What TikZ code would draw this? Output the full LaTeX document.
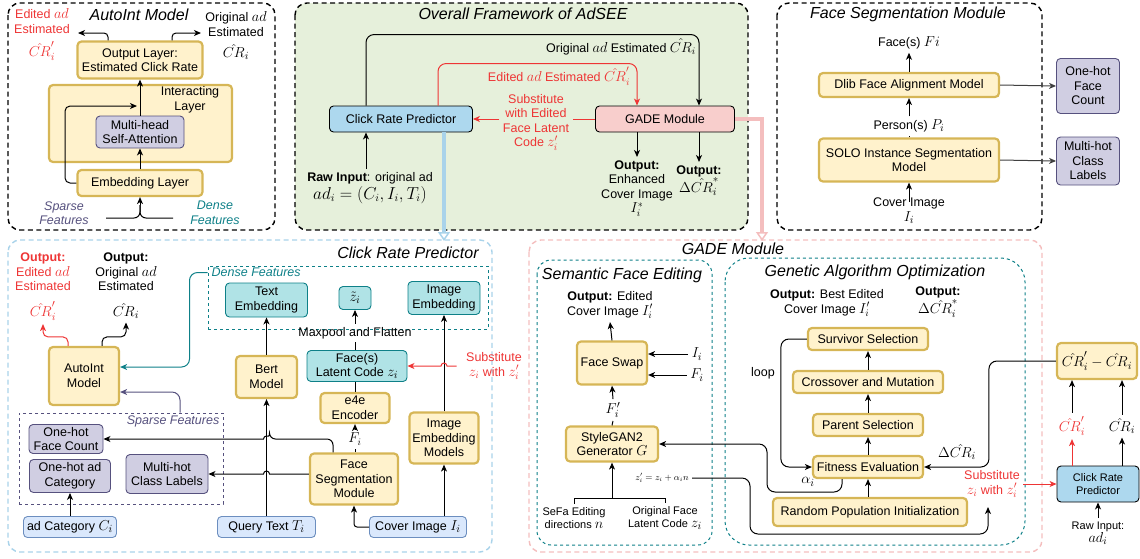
\documentclass[tikz,border=0pt]{standalone}
\usepackage{fontspec}
\setmainfont{Liberation Sans}
\usetikzlibrary{arrows.meta,positioning}

\definecolor{yfill}{HTML}{FFF2CC}
\definecolor{ydraw}{HTML}{D6B656}
\definecolor{pfill}{HTML}{D0CEE2}
\definecolor{pdraw}{HTML}{56517E}
\definecolor{tfill}{HTML}{B0E3E6}
\definecolor{tdraw}{HTML}{0E8088}
\definecolor{lbfill}{HTML}{DAE8FC}
\definecolor{lbdraw}{HTML}{6C8EBF}
\definecolor{crpfill}{HTML}{ADD8EE}
\definecolor{gadefill}{HTML}{F8CECC}
\definecolor{fwgreen}{HTML}{E6F0DB}
\definecolor{redc}{HTML}{EE3535}
\definecolor{crpline}{HTML}{A9D3EA}
\definecolor{gadeline}{HTML}{F4BEBE}

\newcommand{\bigmathfont}{\fontsize{15}{17}\selectfont}
\newcommand{\mth}[1]{{\fontsize{14.5}{16}\selectfont$#1$}}

\tikzset{
  every node/.style={font=\fontsize{12.5}{14.5}\selectfont},
  box/.style={rounded corners=4pt, align=center, inner sep=1pt},
  ybox/.style={box, draw=ydraw, fill=yfill, line width=2.2pt},
  pbox/.style={box, draw=pdraw, fill=pfill, line width=0.9pt},
  tbox/.style={box, draw=tdraw, fill=tfill, line width=0.9pt},
  lbbox/.style={box, draw=lbdraw, fill=lbfill, line width=0.9pt},
  cbox/.style={box, draw=black, fill=crpfill, line width=0.9pt},
  gbox/.style={box, draw=black, fill=gadefill, line width=0.9pt},
  sz/.style 2 args={minimum width=#1pt, minimum height=#2pt},
  arr/.style={-{Stealth[length=7pt,width=6pt,inset=2pt]}, line width=1pt},
  lw/.style={line width=1pt},
  panel/.style={line width=1.4pt, dash pattern=on 5pt off 3.5pt, rounded corners=12pt},
  ipanel/.style={draw=tdraw, line width=1pt, dash pattern=on 3pt off 3pt, rounded corners=14pt},
  dbox/.style={line width=1pt, dash pattern=on 3pt off 3pt},
  ttl/.style={font=\fontsize{16}{18}\selectfont\itshape},
  itl/.style={font=\fontsize{12.5}{14.5}\selectfont\itshape},
  mlbl/.style={font=\bigmathfont},
  small/.style={font=\fontsize{11}{13}\selectfont},
  bigarr/.style={line width=3.5pt, -{Triangle[open, length=9pt, width=12pt, line width=1.5pt]}},
}

\begin{document}
\begin{tikzpicture}[x=1pt, y=-1pt]
\useasboundingbox (0,0) rectangle (1140,558);

% AutoInt Model
\draw[panel] (8,3) rectangle (275,230);
\node[ttl] (aiT) at (139,15) {AutoInt Model};
\node[ybox, sz={183}{77}] (interL) at (140.5,123.5) {};
\node[align=center] (interTxt) at (190,100) {Interacting\\Layer};
\node[ybox, sz={125}{37}] (outL) at (140,60) {Output Layer:\\Estimated Click Rate};
\node[pbox, sz={88}{32}] (mhsa) at (140,132) {Multi-head\\Self-Attention};
\node[ybox, sz={125}{26}] (embL) at (140,183) {Embedding Layer};
\node[align=center, text=redc] (aiEd) at (42,21) {Edited \mth{ad}\\Estimated};
\node[mlbl, text=redc] (aiEdCR) at (42,51) {$\hat{CR}'_i$};
\node[align=center] (aiOr) at (236,24) {Original \mth{ad}\\Estimated};
\node[mlbl] (aiOrCR) at (236,52) {$\hat{CR}_i$};
\node[itl, align=center, text=pdraw] (aiSp) at (64,213) {Sparse\\Features};
\node[itl, align=center, text=tdraw] (aiDn) at (215,213) {Dense\\Features};
\coordinate (aiInL) at (106,218);
\coordinate (aiInR) at (173,218);
\coordinate (aiInJ) at (140,205);
\draw[lw, rounded corners=6pt] (aiInL) -| (aiInJ);
\draw[lw, rounded corners=6pt] (aiInR) -| (aiInJ);
\draw[arr] (aiInJ) -- (embL.south);
\draw[arr] (embL.north) -- (mhsa.south);
\draw[arr] (mhsa.north) -- (outL.south);
\draw[arr, rounded corners=5pt] (embL.west) -| (65,106) -- (137,106);
\draw[arr, rounded corners=4pt] ([xshift=-32pt]outL.north) |- (78,33);
\draw[arr, rounded corners=4pt] ([xshift=32pt]outL.north) |- (201,33);

% Overall framework
\draw[panel, fill=fwgreen] (295,3) rectangle (748,230);
\node[ttl] (fwT) at (523,14) {Overall Framework of AdSEE};
\node[cbox, sz={143}{26}] (crpTop) at (401,119) {Click Rate Predictor};
\node[gbox, sz={139}{26}] (gade) at (665,119) {GADE Module};
\node (fwOr) at (621,47) {Original \mth{ad} Estimated \mth{\hat{CR}_i}};
\node[text=redc] (fwEd) at (559,76) {Edited \mth{ad} Estimated \mth{\hat{CR}'_i}};
\node[align=center, text=redc] (fwSub) at (536,122) {Substitute\\with Edited\\Face Latent\\Code \mth{z'_i}};
\node[align=center, anchor=north] (fwRaw) at (370,169) {\textbf{Raw Input}: original ad\\[1pt]{\fontsize{16}{18}\selectfont $ad_i=(C_i,I_i,T_i)$}};
\node[align=center, anchor=north] (fwOut1) at (637,157) {\textbf{Output:}\\Enhanced\\Cover Image\\\mth{I^*_i}};
\node[align=center, anchor=north] (fwOut2) at (699,162) {\textbf{Output:}\\{\bigmathfont $\Delta\hat{CR}^*_i$}};
\draw[arr, rounded corners=8pt] ([xshift=-35pt]crpTop.north) -- ++(0,-71) -| ([xshift=34pt]gade.north);
\draw[arr, redc, rounded corners=8pt] ([xshift=37pt]crpTop.north) -- ++(0,-42) -| ([xshift=-28pt]gade.north);
\draw[lw, redc] (gade.west) -- (gade.west -| fwSub.east);
\draw[arr, redc] (crpTop.east -| fwSub.west) -- (crpTop.east);
\draw[arr] ([xshift=-4pt]fwRaw.north) -- ([xshift=-35pt]crpTop.south);
\draw[arr] (gade.south -| fwOut1.north) -- (fwOut1.north);
\draw[arr] (gade.south -| fwOut2.north) -- (fwOut2.north);
\coordinate (crpIn) at (444,241);
\coordinate (gadeIn) at (762,241);
\draw[bigarr, draw=crpline] (crpTop.south -| crpIn) -- (crpIn);
\draw[bigarr, draw=gadeline] (gade.east) -| (gadeIn);

% Face Segmentation Module
\draw[panel] (777,3) rectangle (1042,230);
\node[ttl] (fsT) at (908,14) {Face Segmentation Module};
\node[ybox, sz={180}{24}] (dlib) at (909,85) {Dlib Face Alignment Model};
\node[ybox, sz={180}{43}] (solo) at (909,160) {SOLO Instance Segmentation\\Model};
\node[pbox, sz={63}{55}] (fsOne) at (1088,86) {One-hot\\Face\\Count};
\node[pbox, sz={63}{48}] (fsMulti) at (1088,161) {Multi-hot\\Class\\Labels};
\node (fsFace) at (909,43) {Face(s) {\bigmathfont $Fi$}};
\node (fsPers) at (909,126) {Person(s) {\bigmathfont $P_i$}};
\node[align=center] (fsCov) at (909,211) {Cover Image\\{\bigmathfont $I_i$}};
\draw[arr] (dlib.north) -- (fsFace.south);
\draw[lw] (solo.north) -- (fsPers.south);
\draw[arr] (fsPers.north) -- (dlib.south);
\draw[arr] ([yshift=-7pt]fsCov.north) -- (solo.south);
\draw[arr, draw=black!75] (dlib.east) -- (fsOne.west);
\draw[arr, draw=black!75] (solo.east) -- (fsMulti.west);

% Click Rate Predictor
\draw[panel, draw=crpline] (8,240) rectangle (492,552);
\node[ttl] (cpT) at (408,253) {Click Rate Predictor};
\node[align=center, text=redc] (cpEd) at (43,272) {\textbf{Output:}\\Edited \mth{ad}\\Estimated};
\node[mlbl, text=redc] (cpEdCR) at (43,311) {$\hat{CR}'_i$};
\node[align=center] (cpOr) at (126,272) {\textbf{Output:}\\Original \mth{ad}\\Estimated};
\node[mlbl] (cpOrCR) at (126,311) {$\hat{CR}_i$};
\node[ybox, sz={70}{58}] (autoint) at (84,376) {AutoInt\\Model};
\node[dbox, draw=tdraw, sz={280}{63}] (dense) at (348,297.5) {};
\node[itl, anchor=north west, text=tdraw, inner sep=1pt] (denseLbl) at ([xshift=3pt,yshift=-1.5pt]dense.north west) {Dense Features};
\node[tbox, sz={82}{34}] (textEmb) at (266.5,300) {Text\\Embedding};
\node[tbox, sz={32}{23}] (ztil) at (355,298) {\bigmathfont $\tilde{z}_i$};
\node[tbox, sz={72}{33}] (imgEmb) at (444,298) {Image\\Embedding};
\node (maxp) at (355,333) {Maxpool and Flatten};
\node[tbox, sz={100}{31}] (latent) at (357,366) {Face(s)\\Latent Code {\bigmathfont $z_i$}};
\node[ybox, sz={61}{42}] (bert) at (266.5,377) {Bert\\Model};
\node[ybox, sz={69}{30}] (e4e) at (355,408) {e4e\\Encoder};
\node (fiLbl) at (355,439) {\mth{F_i}};
\node[ybox, sz={88}{51}] (faceseg) at (354,479) {Face\\Segmentation\\Module};
\node[ybox, sz={69}{51}] (iem) at (444,438) {Image\\Embedding\\Models};
\node[lbbox, sz={98}{21}] (query) at (266.5,527) {Query Text {\bigmathfont $T_i$}};
\node[lbbox, sz={97}{21}] (cover) at (418,527) {Cover Image {\bigmathfont $I_i$}};
\node[dbox, draw=pdraw, sz={204}{91}] (sparse) at (121,458.5) {};
\node[itl, anchor=north east, text=pdraw, inner sep=1pt] (sparseLbl) at ([xshift=-3pt,yshift=-2pt]sparse.north east) {Sparse Features};
\node[pbox, sz={74}{29}] (cpOne) at (66,439) {One-hot\\Face Count};
\node[pbox, sz={81}{33}] (cpCat) at (70,476) {One-hot ad\\Category};
\node[pbox, sz={82}{39}] (cpMulti) at (167,474) {Multi-hot\\Class Labels};
\node[lbbox, sz={93}{21}] (adcat) at (70,527) {ad Category {\bigmathfont $C_i$}};
\node[align=center, text=redc] (cpSub) at (494,366) {Substitute\\\mth{z_i} with \mth{z'_i}};
\draw[arr, redc, rounded corners=5pt] ([xshift=-16pt]autoint.north) -- ++(0,-9) -| (cpEdCR.south);
\draw[arr, rounded corners=5pt] ([xshift=18pt]autoint.north) -- ++(0,-9) -| (cpOrCR.south);
\draw[arr, draw=tdraw, rounded corners=8pt] ([yshift=-7pt]dense.north west) -- ++(-18,0) |- ([yshift=9pt]autoint.east);
\draw[arr, draw=pdraw, rounded corners=8pt] ([xshift=59pt]sparse.north) |- ([yshift=-16pt]autoint.east);
\draw[arr] (bert.north) -- (textEmb.south);
\draw[lw] (maxp.south |- latent.north) -- (maxp.south);
\draw[arr] (maxp.north) -- (ztil.south);
\draw[lw] (e4e.north) -- (e4e.north |- latent.south);
\draw[lw] (fiLbl.south |- faceseg.north) -- (fiLbl.south);
\draw[arr] (fiLbl.north) -- (fiLbl.north |- e4e.south);
\draw[arr] (query.north) -- (bert.south);
\draw[arr, rounded corners=3pt] (cover.west) -| (faceseg.south);
\draw[arr] (cover.north -| iem.south) -- (iem.south);
\draw[arr] (iem.north) -- (imgEmb.south);
\draw[arr, rounded corners=6pt] ([xshift=-21pt]faceseg.north) |- (269.5,439) [sharp corners] arc[start angle=0, end angle=-180, radius=3] -- (cpOne.east);
\draw[arr] ([yshift=5pt]faceseg.west) -- (269.5,474) arc[start angle=0, end angle=-180, radius=3] -- (cpMulti.east);
\draw[arr] (adcat.north) -- (cpCat.south);
\draw[arr, redc] ([xshift=-6pt]cpSub.west) -- (447,366) arc[start angle=0, end angle=-180, radius=3] -- (latent.east);

% GADE Module
\draw[panel, draw=gadeline] (529,240) rectangle (1042,552);
\node[ttl] (gaT) at (733,249) {GADE Module};
\draw[ipanel] (537,260) rectangle (712,545);
\draw[ipanel, rounded corners=24pt] (725,258) rectangle (1025,545);
\node[ttl] (sfeT) at (622,275) {Semantic Face Editing};
\node[ttl] (gaoT) at (875,272) {Genetic Algorithm Optimization};
\node[align=center] (sfeOut) at (610,305) {\textbf{Output:} Edited\\Cover Image \mth{I'_i}};
\node[ybox, sz={70}{43}] (fswap) at (612,363) {Face Swap};
\node[mlbl] (sfeI) at (697,354) {$I_i$};
\node[mlbl] (sfeF) at (697,375) {$F_i$};
\node[mlbl] (sfeFp) at (613,410) {$F'_i$};
\node[ybox, sz={92}{35}] (sgan) at (612,444) {StyleGAN2\\Generator {\bigmathfont $G$}};
\node[small, align=center] (sefa) at (574,518) {SeFa Editing\\directions {\bigmathfont $n$}};
\node[small, align=center] (origz) at (665,518) {Original Face\\Latent Code {\bigmathfont $z_i$}};
\node[font=\fontsize{9}{11}\selectfont] (zprime) at (662,478) {$z'_i = z_i + \alpha_i n$};
\coordinate (bk) at (612,498);
\draw[arr] (fswap.north) -- (sfeOut.south);
\draw[arr] (sfeI.west) -- (sfeI.west -| fswap.east);
\draw[arr] (sfeF.west) -- (sfeF.west -| fswap.east);
\draw[lw] (sgan.north) -- (sfeFp.south);
\draw[arr] (sfeFp.north) -- (fswap.south);
\draw[lw] (sefa.north) |- (bk) -| (origz.north);
\draw[arr] (bk) -- (sgan.south);

\node[align=center] (gaOut1) at (827,303) {\textbf{Output:} Best Edited\\Cover Image \mth{I'_i}};
\node[align=center] (gaOut2) at (938,302) {\textbf{Output:}\\{\bigmathfont $\Delta\hat{CR}^*_i$}};
\node[ybox, sz={120}{22}] (surv) at (868,339) {Survivor Selection};
\node[ybox, sz={150}{22}] (cross) at (868,382) {Crossover and Mutation};
\node[ybox, sz={110}{22}] (parent) at (868,425) {Parent Selection};
\node[ybox, sz={110}{22}] (fit) at (868,467) {Fitness Evaluation};
\node[ybox, sz={194}{28}] (rand) at (870,512) {Random Population Initialization};
\node (loopLbl) at (763,373) {loop};
\node[mlbl] (dLbl) at (957,452) {$\Delta\hat{CR}_i$};
\node[mlbl] (aLbl) at (808,482) {$\alpha_i$};
\node[ybox, sz={80}{36}] (diff) at (1097,361) {{\bigmathfont $\hat{CR}'_i-\hat{CR}_i$}};
\node[mlbl, text=redc] (rCR) at (1072,426) {$\hat{CR}'_i$};
\node[mlbl] (bCR) at (1122,426) {$\hat{CR}_i$};
\node[cbox, sz={82}{36}, small] (crp2) at (1098,484) {Click Rate\\Predictor};
\node[small, align=center] (raw2) at (1098,533) {Raw Input:\\{\bigmathfont $ad_i$}};
\node[align=center, text=redc] (gaSub) at (992,484) {Substitute\\\mth{z_i} with \mth{z'_i}};
\coordinate (gaLow) at (988,534);
\coordinate (subTip) at (988,507);
\draw[arr] (rand.north -| fit.south) -- (fit.south);
\draw[arr] (fit.north) -- (parent.south);
\draw[arr] (parent.north) -- (cross.south);
\draw[arr] (cross.north) -- (surv.south);
\draw[arr, rounded corners=8pt] (surv.west) -- ++(-26,0) |- (fit.west);
\draw[arr, rounded corners=8pt] (diff.west) -- ++(-67,0) |- (fit.east);
\draw[arr, rounded corners=8pt] ([xshift=-26pt]fit.south) |- (767,492) |- (sgan.east);
\draw[arr, rounded corners=8pt] (zprime.east) -- (750,478) |- (gaLow) -- (subTip);
\draw[arr] (rCR.north) -- (rCR.north |- diff.south);
\draw[arr] (bCR.north) -- (bCR.north |- diff.south);
\draw[arr, redc] (rCR.south |- crp2.north) -- (rCR.south);
\draw[arr] (bCR.south |- crp2.north) -- (bCR.south);
\draw[arr] (raw2.north) -- (crp2.south);
\draw[arr, redc] (gaSub.east) -- (crp2.west);
\end{tikzpicture}
\end{document}
